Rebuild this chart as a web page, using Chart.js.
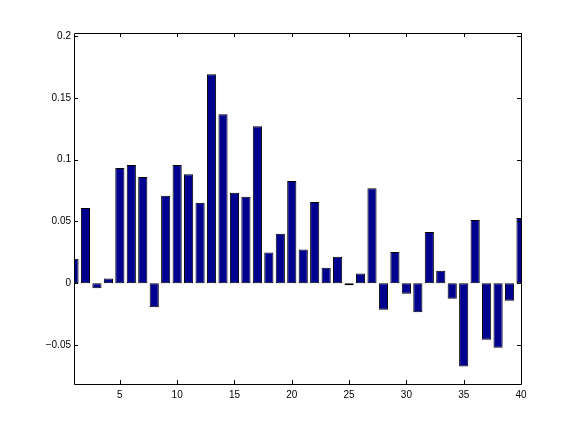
<!DOCTYPE html>
<html>
<head>
<meta charset="utf-8">
<script src="https://cdn.jsdelivr.net/npm/chart.js@4"></script>
<style>
  html, body { margin: 0; padding: 0; background: #fff; }
  #wrap { width: 576px; height: 432px; }
</style>
</head>
<body>
<div id="wrap"><canvas id="chart" width="576" height="432"></canvas></div>
<script>
// Data
const positions = [1, 2, 3, 4, 5, 6, 7, 8, 9, 10,
                   11, 12, 13, 14, 15, 16, 17, 18, 19, 20,
                   21, 22, 23, 24, 25, 26, 27, 28, 29, 30,
                   31, 32, 33, 34, 35, 36, 37, 38, 39, 40];
const values = [0.0199, 0.0608, -0.0040, 0.0038, 0.0933, 0.0957, 0.0860, -0.0194, 0.0707, 0.0957,
                0.0882, 0.0651, 0.1691, 0.1366, 0.0731, 0.0699, 0.1269, 0.0248, 0.0401, 0.0827,
                0.0272, 0.0658, 0.0126, 0.0215, -0.0016, 0.0078, 0.0769, -0.0215, 0.0253, -0.0086,
                -0.0234, 0.0414, 0.0102, -0.0126, -0.0674, 0.0511, -0.0457, -0.0521, -0.0142, 0.0527];
const xTicks = [5, 10, 15, 20, 25, 30, 35, 40];
const yTicks = [-0.05, 0, 0.05, 0.1, 0.15, 0.2];

const fontSpec = { family: 'Helvetica, "Liberation Sans", Arial, sans-serif', size: 10 };

// Box around the axes with inward ticks on all four sides
const boxPlugin = {
    id: 'matlabBox',
    afterDatasetsDraw: (chart) => {
        const { ctx, chartArea: { left, top, right, bottom }, scales } = chart;
        const len = 4;
        ctx.save();
        ctx.strokeStyle = '#000';
        ctx.lineWidth = 1;
        ctx.beginPath();
        ctx.rect(Math.round(left) + 0.5, Math.round(top) + 0.5,
                 Math.round(right - left), Math.round(bottom - top));
        xTicks.forEach(v => {
            const x = Math.round(scales.x.getPixelForValue(v)) + 0.5;
            ctx.moveTo(x, bottom); ctx.lineTo(x, bottom - len);
            ctx.moveTo(x, top); ctx.lineTo(x, top + len);
        });
        yTicks.forEach(v => {
            const y = Math.round(scales.y.getPixelForValue(v)) + 0.5;
            ctx.moveTo(left, y); ctx.lineTo(left + len, y);
            ctx.moveTo(right, y); ctx.lineTo(right - len, y);
        });
        ctx.stroke();
        ctx.restore();
    }
};

new Chart(document.getElementById('chart').getContext('2d'), {
    type: 'bar',
    plugins: [boxPlugin],
    data: {
        datasets: [{
            data: positions.map((p, i) => ({ x: p, y: values[i] })),
            backgroundColor: '#00008f',
            borderColor: '#000',
            borderWidth: 1,
            borderSkipped: false,
            barPercentage: 0.8,
            categoryPercentage: 1,
            clip: 0
        }]
    },
    options: {
        responsive: false,
        animation: false,
        layout: { padding: { left: 0, top: 33, right: 55, bottom: 0 } },
        plugins: { legend: { display: false }, tooltip: { enabled: false } },
        scales: {
            x: {
                type: 'linear',
                min: 1,
                max: 40,
                offset: false,
                grid: { display: false, drawTicks: false, offset: false },
                border: { display: false },
                afterBuildTicks: (scale) => { scale.ticks = xTicks.map(v => ({ value: v })); },
                afterFit: (scale) => { scale.height = 48; },
                ticks: { color: '#000', font: fontSpec, padding: 5, maxRotation: 0, autoSkip: false }
            },
            y: {
                min: -0.0815,
                max: 0.2024,
                grid: { display: false, drawTicks: false },
                border: { display: false },
                afterBuildTicks: (scale) => { scale.ticks = yTicks.map(v => ({ value: v })); },
                afterFit: (scale) => { scale.width = 74; },
                ticks: {
                    color: '#000',
                    font: fontSpec,
                    padding: 3,
                    autoSkip: false,
                    callback: (v) => (v < 0 ? '\u2212' + String(Math.abs(v)) : String(v))
                }
            }
        }
    }
});
</script>
</body>
</html>
